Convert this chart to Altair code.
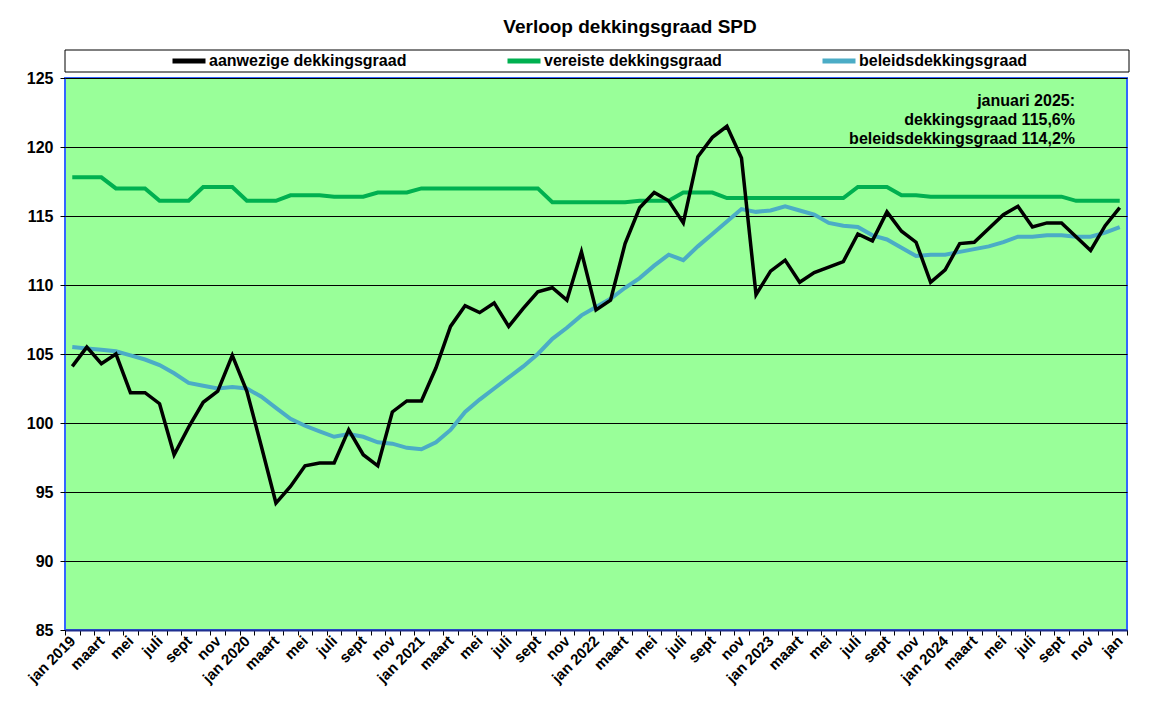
import json
import pandas as pd
import altair as alt

title_text = "Verloop dekkingsgraad SPD"
series_names = ["aanwezige dekkingsgraad", "vereiste dekkingsgraad", "beleidsdekkingsgraad"]
series_colors = ["#000000", "#00B050", "#4BACC6"]

# 73 months: jan 2019 .. jan 2025 (only every other month labelled)
tick_labels = []
for yr in ["2019", "2020", "2021", "2022", "2023", "2024"]:
    tick_labels += ["jan " + yr, "", "maart", "", "mei", "", "juli", "", "sept", "", "nov", ""]
tick_labels += ["jan"]

aanwezige = [
    104.1, 105.5, 104.3, 105.0, 102.2, 102.2, 101.4, 97.7, 99.7, 101.5, 102.3, 104.9,
    102.3, 98.3, 94.2, 95.4, 96.9, 97.1, 97.1, 99.5, 97.7, 96.9, 100.8, 101.6,
    101.6, 104.0, 107.0, 108.5, 108.0, 108.7, 107.0, 108.3, 109.5, 109.8, 108.9, 112.4,
    108.2, 108.9, 113.0, 115.6, 116.7, 116.1, 114.5, 119.3, 120.7, 121.5, 119.2, 109.3,
    111.0, 111.8, 110.2, 110.9, 111.3, 111.7, 113.7, 113.2, 115.3, 113.9, 113.1, 110.2,
    111.1, 113.0, 113.1, 114.1, 115.1, 115.7, 114.2, 114.5, 114.5, 113.5, 112.5, 114.3,
    115.6,
]
vereiste = [
    117.8, 117.8, 117.8, 117.0, 117.0, 117.0, 116.1, 116.1, 116.1, 117.1, 117.1, 117.1,
    116.1, 116.1, 116.1, 116.5, 116.5, 116.5, 116.4, 116.4, 116.4, 116.7, 116.7, 116.7,
    117.0, 117.0, 117.0, 117.0, 117.0, 117.0, 117.0, 117.0, 117.0, 116.0, 116.0, 116.0,
    116.0, 116.0, 116.0, 116.1, 116.1, 116.1, 116.7, 116.7, 116.7, 116.3, 116.3, 116.3,
    116.3, 116.3, 116.3, 116.3, 116.3, 116.3, 117.1, 117.1, 117.1, 116.5, 116.5, 116.4,
    116.4, 116.4, 116.4, 116.4, 116.4, 116.4, 116.4, 116.4, 116.4, 116.1, 116.1, 116.1,
    116.1,
]
beleids = [
    105.5, 105.4, 105.3, 105.2, 104.9, 104.6, 104.2, 103.6, 102.9, 102.7, 102.5, 102.6,
    102.5, 101.9, 101.1, 100.3, 99.8, 99.4, 99.0, 99.2, 99.0, 98.6, 98.5, 98.2,
    98.1, 98.6, 99.5, 100.8, 101.7, 102.5, 103.3, 104.1, 105.0, 106.1, 106.9, 107.8,
    108.4, 109.0, 109.8, 110.5, 111.4, 112.2, 111.8, 112.8, 113.7, 114.6, 115.5, 115.3,
    115.4, 115.7, 115.4, 115.1, 114.5, 114.3, 114.2, 113.6, 113.3, 112.7, 112.1, 112.2,
    112.2, 112.4, 112.6, 112.8, 113.1, 113.5, 113.5, 113.6, 113.6, 113.5, 113.5, 113.8,
    114.2,
]
note_lines = ["januari 2025:", "dekkingsgraad 115,6%", "beleidsdekkingsgraad 114,2%"]

rows = []
for name, vals in zip(series_names, [aanwezige, vereiste, beleids]):
    for i, v in enumerate(vals):
        rows.append({"idx": i, "serie": name, "waarde": v})
df = pd.DataFrame(rows)

FONT = "Liberation Sans"
W, H = 1062, 552

label_expr = json.dumps(tick_labels) + "[datum.value]"

x_enc = alt.X(
    "idx:O",
    bandPosition=0.5,
    scale=alt.Scale(type="band", paddingInner=0, paddingOuter=0),
    axis=alt.Axis(
        title=None,
        labelExpr=label_expr,
        labelAngle=-45,
        labelAlign="right",
        labelBaseline="middle",
        labelFont=FONT,
        labelFontSize=15,
        labelFontWeight="bold",
        labelColor="#000000",
        labelPadding=3,
        tickBand="extent",
        tickSize=5,
        tickColor="#000000",
        domainColor="#1F2F8F",
        domainWidth=2,
        grid=False,
        labelOverlap=False,
    ),
)
y_enc = alt.Y(
    "waarde:Q",
    scale=alt.Scale(domain=[85, 125], nice=False, zero=False),
    axis=alt.Axis(
        title=None,
        values=[85, 90, 95, 100, 105, 110, 115, 120, 125],
        labelFont=FONT,
        labelFontSize=16,
        labelFontWeight="bold",
        labelColor="#000000",
        labelPadding=7,
        tickSize=5,
        tickColor="#000000",
        domain=False,
        grid=True,
        gridColor="#000000",
        gridWidth=1,
        gridOpacity=1,
    ),
)
color_enc = alt.Color(
    "serie:N",
    scale=alt.Scale(domain=series_names, range=series_colors),
    legend=alt.Legend(
        title=None,
        orient="none",
        legendX=105,
        legendY=-36,
        direction="horizontal",
        columns=3,
        columnPadding=90,
        padding=0,
        symbolType="stroke",
        symbolSize=1089,
        symbolStrokeWidth=5,
        labelFont=FONT,
        labelFontSize=16,
        labelFontWeight="bold",
        labelColor="#000000",
        labelOffset=1,
        labelLimit=400,
    ),
)

base = alt.Chart(df)

legend_box = alt.Chart(pd.DataFrame({"k": [0]})).mark_rect(
    fill="#FFFFFF", stroke="#000000", strokeWidth=1
).encode(
    x=alt.value(0), x2=alt.value(1064), y=alt.value(-28), y2=alt.value(-6)
)

def series_layer(name, width):
    return base.transform_filter(alt.datum.serie == name).mark_line(
        strokeWidth=width, strokeJoin="miter", clip=False
    ).encode(x=x_enc, y=y_enc, color=color_enc)

note = alt.Chart(pd.DataFrame({"t": ["\n".join(note_lines)]})).mark_text(
    align="right", baseline="top", font=FONT, fontSize=16, fontWeight="bold",
    color="#000000", lineBreak="\n", lineHeight=19,
).encode(x=alt.value(1010), y=alt.value(15), text="t:N")

chart = alt.layer(
    legend_box,
    series_layer(series_names[2], 4),
    series_layer(series_names[1], 4),
    series_layer(series_names[0], 3.5),
    note,
).properties(
    width=W,
    height=H,
    title=alt.TitleParams(
        title_text, font=FONT, fontSize=19, fontWeight="bold", color="#000000",
        anchor="middle", frame="group", dx=34, offset=5,
    ),
    padding={"left": 57, "top": 70, "right": 20, "bottom": 60},
    autosize=alt.AutoSizeParams(type="none"),
    background="#FFFFFF",
).configure_view(
    fill="#99FF99", stroke="#3366FF", strokeWidth=2
)

chart.save("out.html", embed_options={"renderer": "svg", "actions": False})
